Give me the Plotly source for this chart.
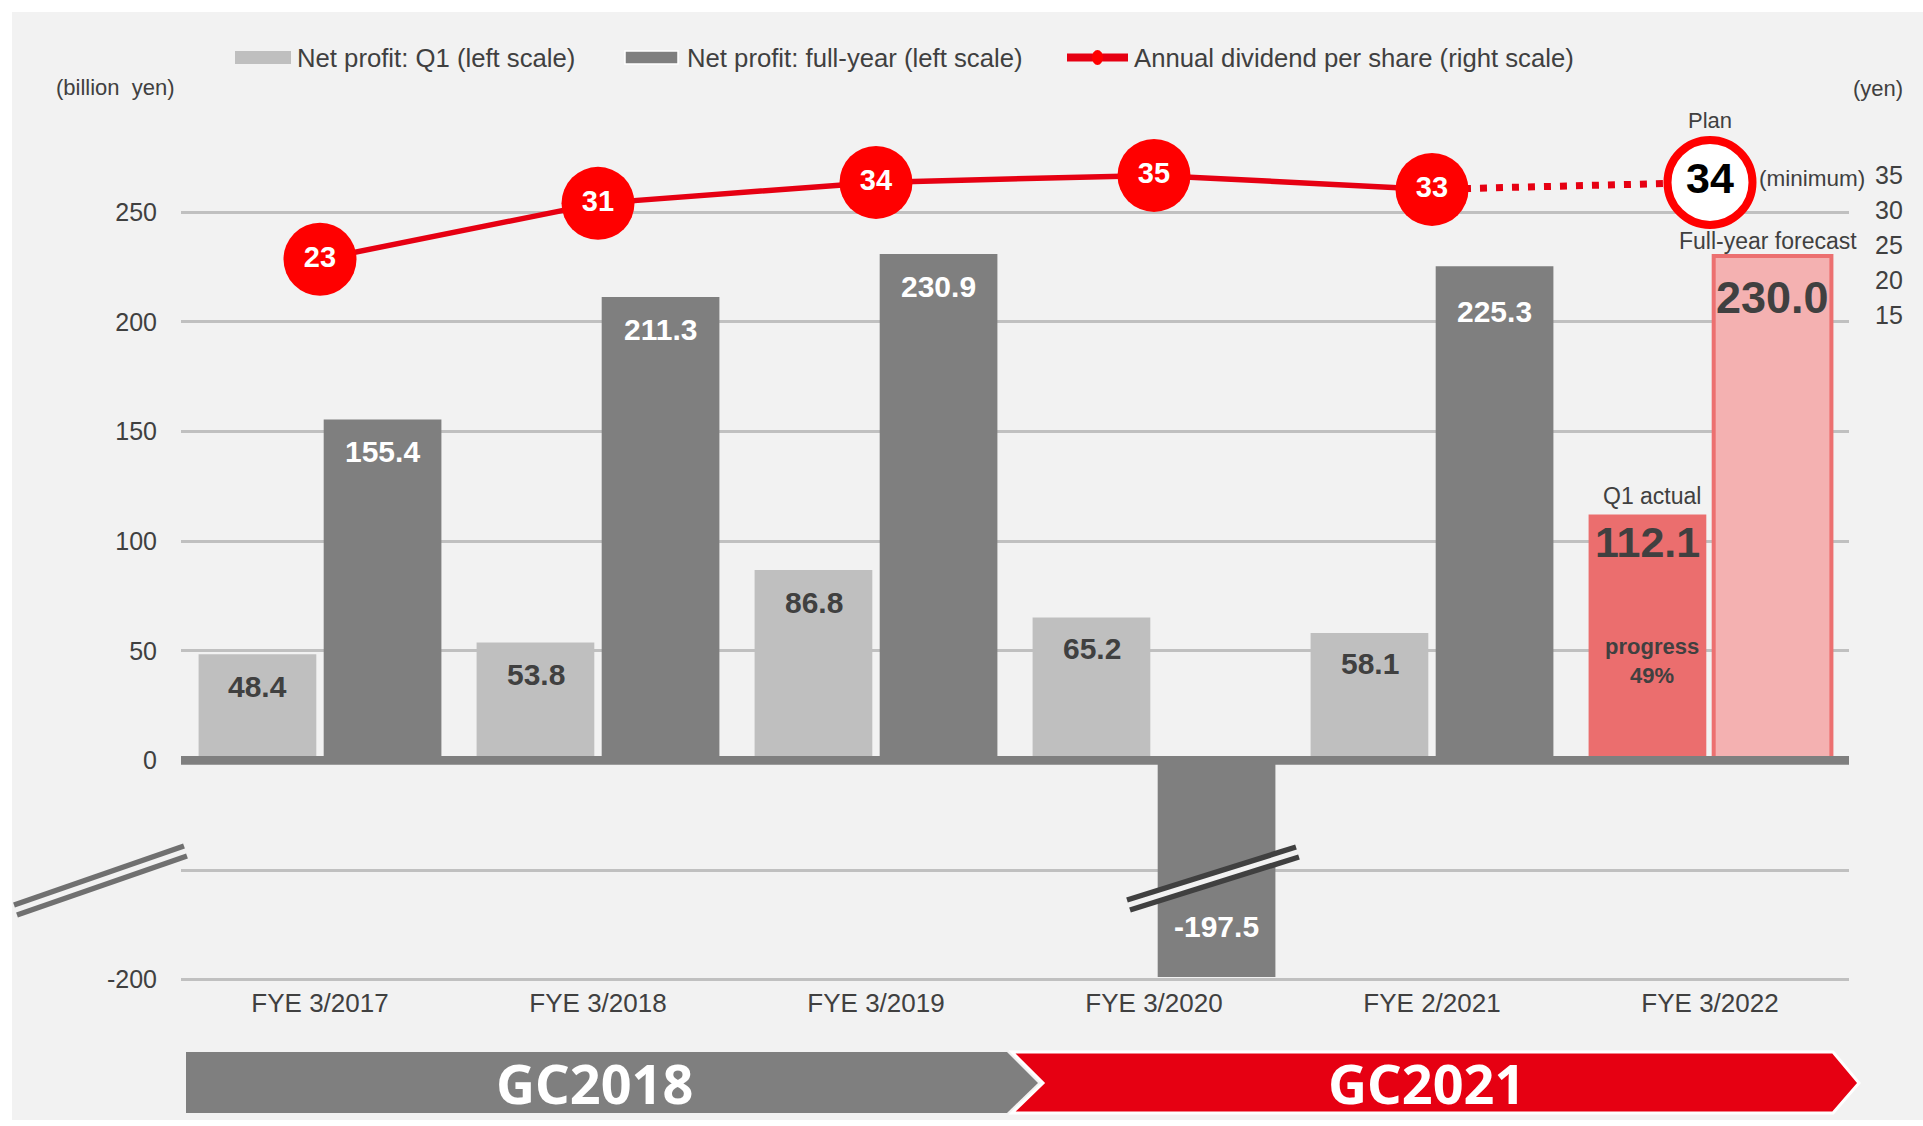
"""Net profit and dividend chart with a broken left axis."""

import plotly.graph_objects as go

FONT = "Liberation Sans, Arial, sans-serif"
BANNER_FONT = "Noto Sans, Liberation Sans, sans-serif"
TEXT = "#404040"
RED = "#e60012"
DOT_RED = "#ff0000"

CATEGORIES = ["FYE 3/2017", "FYE 3/2018", "FYE 3/2019", "FYE 3/2020", "FYE 2/2021", "FYE 3/2022"]
Q1_PROFIT = [48.4, 53.8, 86.8, 65.2, 58.1, 112.1]
FY_PROFIT = [155.4, 211.3, 230.9, -197.5, 225.3, 230.0]
DIVIDEND = [23, 31, 34, 35, 33, 34]
LEFT_TICKS = [-200, -100, 0, 50, 100, 150, 200, 250]
LEFT_TICK_TEXT = ["-200", "", "0", "50", "100", "150", "200", "250"]
RIGHT_TICKS = [15, 20, 25, 30, 35]
PROGRESS_TEXT = "progress<br>49%"
LEGEND_NAMES = [
    "Net profit: Q1 (left scale)",
    "Net profit: full-year (left scale)",
    "Annual dividend per share (right scale)",
]
PLANS = ["GC2018", "GC2021"]

# negative values are drawn at half scale (broken axis)
NEG_SCALE = 0.5


def squash(v):
    return v if v >= 0 else v * NEG_SCALE


# pixel layout of the plot area
W, H = 1923, 1126
PLOT_L, PLOT_R, PLOT_T, PLOT_B = 181, 1849, 60, 985
ZERO_Y, UNIT_PX = 760.4, 2.193
YEN35_Y, YEN_PX = 175.4, 6.99
BAR_OFF = 62.5
# label offsets from bar tips (px)
Q1_LABEL_SHIFT = [-32, -32, -32, -31, -31, -27]
FY_LABEL_SHIFT = [-32, -32, -32, 50, -45, -41]


def px(x):
    return (x - PLOT_L) / (PLOT_R - PLOT_L)


def py(y):
    return (PLOT_B - y) / (PLOT_B - PLOT_T)


left_range = [(ZERO_Y - PLOT_B) / UNIT_PX, (ZERO_Y - PLOT_T) / UNIT_PX]
right_range = [35 - (PLOT_B - YEN35_Y) / YEN_PX, 35 + (YEN35_Y - PLOT_T) / YEN_PX]

last = len(CATEGORIES) - 1
q1_colors = ["#bfbfbf"] * last + ["#eb6e6e"]
fy_colors = ["#7f7f7f"] * last + ["#f4b1b1"]
fy_line_w = [0] * last + [4]

fig = go.Figure()
fig.add_trace(go.Bar(
    x=CATEGORIES, y=[squash(v) for v in Q1_PROFIT], name=LEGEND_NAMES[0],
    marker=dict(color=q1_colors, line=dict(width=0)), showlegend=False,
))
fig.add_trace(go.Bar(
    x=CATEGORIES, y=[squash(v) for v in FY_PROFIT], name=LEGEND_NAMES[1],
    marker=dict(color=fy_colors, line=dict(width=fy_line_w, color="#ec7070")), showlegend=False,
))
# dotted link to the plan value
fig.add_trace(go.Scatter(
    x=CATEGORIES[-2:], y=DIVIDEND[-2:], yaxis="y2", mode="lines",
    line=dict(color=RED, width=7, dash="7px,9px"), showlegend=False,
))
fig.add_trace(go.Scatter(
    x=CATEGORIES[:-1], y=DIVIDEND[:-1], yaxis="y2", mode="lines+markers+text",
    line=dict(color=RED, width=5.5), marker=dict(size=73, color=DOT_RED),
    text=[str(v) for v in DIVIDEND[:-1]], textposition="middle center",
    textfont=dict(family=FONT, size=29, color="white", weight="bold"),
    name=LEGEND_NAMES[2], showlegend=False,
))
fig.add_trace(go.Scatter(
    x=CATEGORIES[-1:], y=DIVIDEND[-1:], yaxis="y2", mode="markers+text",
    marker=dict(size=85, color="white", line=dict(color=DOT_RED, width=8)),
    text=[str(DIVIDEND[-1])], textposition="middle center",
    textfont=dict(family=FONT, size=43, color="black", weight="bold"), showlegend=False,
))

ann = []


def note(text, x, y, size, color=TEXT, bold=False, xshift=0, yshift=0, xanchor="center",
         yanchor="middle", xref="x", yref="y", family=FONT):
    ann.append(dict(
        text=text, x=x, y=y, xref=xref, yref=yref, xshift=xshift, yshift=yshift,
        xanchor=xanchor, yanchor=yanchor, showarrow=False,
        font=dict(family=family, size=size, color=color, weight="bold" if bold else "normal"),
    ))


for i, cat in enumerate(CATEGORIES):
    q, f = Q1_PROFIT[i], FY_PROFIT[i]
    big = i == last
    note(f"{q:.1f}", cat, squash(q), 43 if big else 30, bold=True, xshift=-BAR_OFF,
         yshift=Q1_LABEL_SHIFT[i])
    note(f"{f:.1f}", cat, squash(f), 45 if big else 30, color=TEXT if big else "white", bold=True,
         xshift=BAR_OFF, yshift=FY_LABEL_SHIFT[i])

cat = CATEGORIES[last]
note("Q1 actual", cat, Q1_PROFIT[last], 23, xshift=-BAR_OFF + 4, yshift=19)
note(PROGRESS_TEXT, cat, Q1_PROFIT[last], 22, bold=True, xshift=-BAR_OFF + 4, yshift=-146)
note("Full-year forecast", cat, FY_PROFIT[last], 23, xshift=BAR_OFF - 5, yshift=15)
note("Plan", cat, DIVIDEND[last], 22, yref="y2", yshift=62)
note("(minimum)", cat, DIVIDEND[last], 22.5, yref="y2", xanchor="left", xshift=47, yshift=4)
note("(billion  yen)", px(115), py(87), 22, xref="paper", yref="paper")
note("(yen)", px(1878), py(88), 22, xref="paper", yref="paper")

# background and manual legend
shapes = [
    dict(type="rect", xref="paper", yref="paper", x0=px(12), x1=px(W), y0=py(1120), y1=py(12),
         fillcolor="#f2f2f2", line=dict(width=0), layer="below"),
    dict(type="rect", xref="paper", yref="paper", x0=px(235), x1=px(291), y0=py(64), y1=py(51),
         fillcolor="#bfbfbf", line=dict(width=0)),
    dict(type="rect", xref="paper", yref="paper", x0=px(625), x1=px(678), y0=py(64), y1=py(51),
         fillcolor="#7f7f7f", line=dict(width=1.5, color="white")),
    dict(type="line", xref="paper", yref="paper", x0=px(1067), x1=px(1128), y0=py(57.5), y1=py(57.5),
         line=dict(width=8, color=RED)),
    dict(type="circle", xref="paper", yref="paper", x0=px(1092), x1=px(1103), y0=py(65), y1=py(50),
         fillcolor=DOT_RED, line=dict(width=0)),
]
for name, x in zip(LEGEND_NAMES, [295, 685, 1132]):
    note(name, px(x), py(57.5), 25.7, xref="paper", yref="paper", xanchor="left")

# thick zero line over the bar bases
shapes.append(dict(type="rect", xref="paper", yref="y", x0=0, x1=1, ysizemode="pixel", yanchor=0,
                   y0=-4.4, y1=4.4, fillcolor="#7f7f7f", line=dict(width=0), layer="above"))


# axis break marks
def brk(x0, y0, x1, y1, color, band):
    out = []
    if band:
        out.append(dict(type="line", xref="paper", yref="paper", x0=px(x0), y0=py(y0 + 5),
                        x1=px(x1), y1=py(y1 + 5), line=dict(width=9, color="#f2f2f2")))
    for d in (0, 10):
        out.append(dict(type="line", xref="paper", yref="paper", x0=px(x0 + d * 0.3), y0=py(y0 + d),
                        x1=px(x1 + d * 0.3), y1=py(y1 + d), line=dict(width=5.5, color=color)))
    return out


shapes += brk(14, 905, 184, 846, "#707070", False)
shapes += brk(1127, 900, 1296, 847, "#404040", True)


# plan banners
def path(pts):
    return "M " + " L ".join(f"{px(x):.5f},{py(y):.5f}" for x, y in pts) + " Z"


shapes.append(dict(type="path", xref="paper", yref="paper", fillcolor="#7f7f7f", line=dict(width=0),
                   path=path([(186, 1052), (1007, 1052), (1038, 1083), (1007, 1113), (186, 1113)])))
shapes.append(dict(type="path", xref="paper", yref="paper", fillcolor=RED, line=dict(width=3, color="white"),
                   path=path([(1012, 1052), (1833, 1052), (1859, 1083), (1833, 1113), (1012, 1113), (1043, 1083)])))
note(PLANS[0], px(594), py(1083), 54, color="white", bold=True, xref="paper", yref="paper", family=BANNER_FONT)
note(PLANS[1], px(1426), py(1083), 54, color="white", bold=True, xref="paper", yref="paper", family=BANNER_FONT)

fig.update_layout(
    width=W, height=H, autosize=False,
    margin=dict(l=PLOT_L, r=W - PLOT_R, t=PLOT_T, b=H - PLOT_B, pad=0),
    paper_bgcolor="white", plot_bgcolor="rgba(0,0,0,0)",
    barmode="group", bargap=0.10, bargroupgap=0.059,
    font=dict(family=FONT, color=TEXT),
    showlegend=False,
    xaxis=dict(type="category", range=[-0.5, len(CATEGORIES) - 0.5], showgrid=False, zeroline=False,
               showline=False, ticks="", tickfont=dict(size=26, color=TEXT), ticklabelstandoff=0),
    yaxis=dict(range=left_range, tickvals=[squash(v) for v in LEFT_TICKS], ticktext=LEFT_TICK_TEXT,
               showgrid=True, gridcolor="#c0c0c0", gridwidth=2.5, zeroline=False, showline=False,
               ticks="", tickfont=dict(size=25, color=TEXT), ticklabelstandoff=23),
    yaxis2=dict(range=right_range, overlaying="y", side="right", tickvals=RIGHT_TICKS,
                showgrid=False, zeroline=False, showline=False, ticks="",
                tickfont=dict(size=25, color=TEXT), ticklabelstandoff=25),
    annotations=ann, shapes=shapes,
)

fig.write_html("out.html", config={"displayModeBar": False},
               post_script="document.body.style.margin='0';")
